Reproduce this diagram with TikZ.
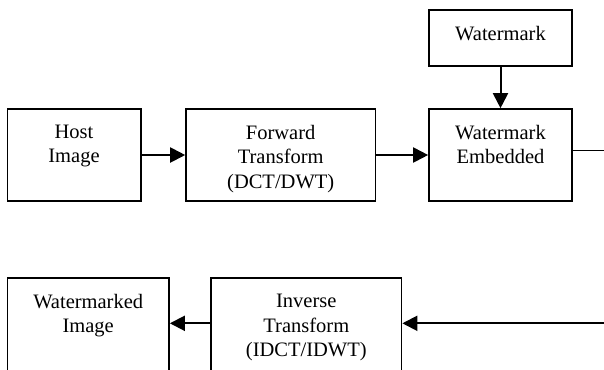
\documentclass[tikz,border=0pt]{standalone}
\usepackage{fontspec}
\setmainfont{Liberation Serif}
\usepackage{tikz}
\usetikzlibrary{calc}
\usetikzlibrary{arrows.meta}
\tikzstyle{every node}=[font=\fontsize{12.3}{14.7}\selectfont]
\tikzstyle{block}=[draw, line width=1pt, minimum height=55.2pt, inner sep=0pt]
\tikzstyle{blocktext}=[anchor=north, align=center, inner sep=0pt, yshift=-9.8pt]

\begin{document}
\begin{tikzpicture}[x=0.6pt, y=-0.6pt, >={Triangle[length=9pt, width=9pt]}]
                \useasboundingbox (0, 0) rectangle (604, 369);
                \clip (0, 0) rectangle (604, 369);
                % top row
                \node [block, minimum width=85.8pt, minimum height=33.6pt] (wm) at (500.5, 38) {};
                \node [blocktext] (wmtxt) at (wm.north) {Watermark};
                \node [block, minimum width=80pt] (host) at (74, 155) {};
                \node [blocktext] (hosttxt) at (host.north) {Host\\Image};
                \node [block, minimum width=113.6pt] (fwd) at (280.7, 155) {};
                \node [blocktext] (fwdtxt) at (fwd.north) {Forward\\Transform\\(DCT/DWT)};
                \node [block, minimum width=85.8pt] (emb) at (500.5, 155) {};
                \node [blocktext] (embtxt) at (emb.north) {Watermark\\Embedded};
                % bottom row, cut off by the page edge
                \node [block, minimum width=97pt, minimum height=60pt] (wmimg) at (88.2, 328.3) {};
                \node [blocktext] (wmimgtxt) at (wmimg.north) {Watermarked\\Image};
                \node [block, minimum width=114.3pt, minimum height=60pt] (inv) at (306.3, 328.3) {};
                \node [blocktext] (invtxt) at (inv.north) {Inverse\\Transform\\(IDCT/IDWT)};
                % connectors
                \coordinate (outR) at (610, 150.7);
                \coordinate (inR) at (610, 323.3);
                \draw [line width=1.2pt, ->] (host) -- (fwd);
                \draw [line width=1.2pt, ->] (fwd) -- (emb);
                \draw [line width=1.2pt, ->] (wm) -- (emb);
                \draw [line width=0.9pt] (emb.east |- outR) -- (outR);
                \draw [line width=1.2pt, ->] (inR) -- (inv.east |- inR);
                \draw [line width=1.2pt, ->] (inv.west |- inR) -- (wmimg.east |- inR);
            \end{tikzpicture}
\end{document}
